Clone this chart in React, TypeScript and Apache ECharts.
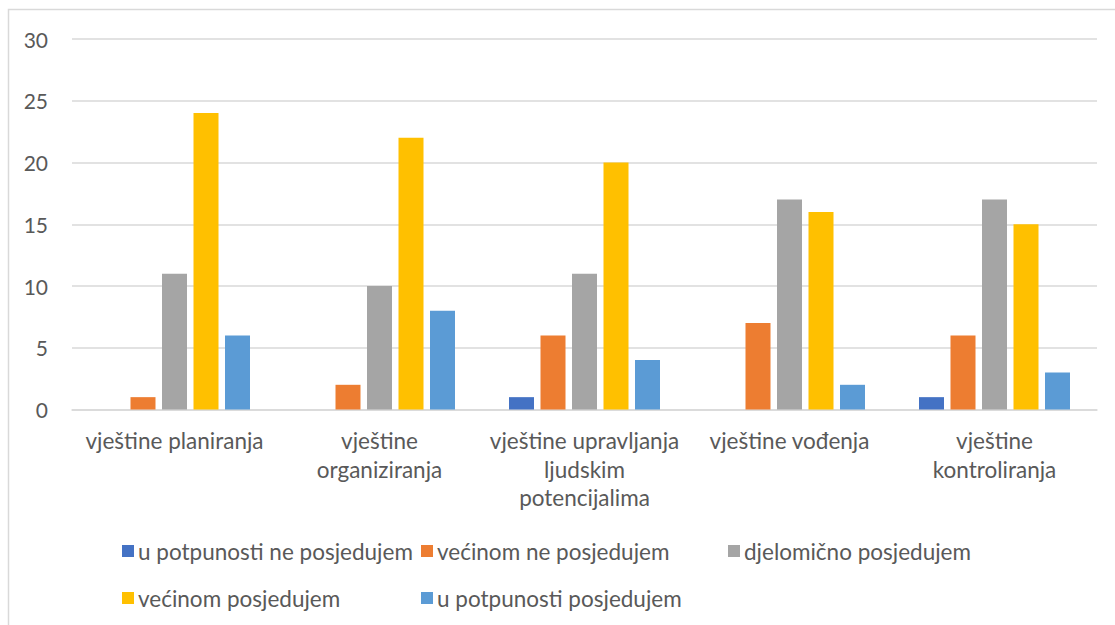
import React, { useEffect, useRef } from "react";
import * as echarts from "echarts";

const categories = [
  "vještine planiranja",
  "vještine\norganiziranja",
  "vještine upravljanja\nljudskim\npotencijalima",
  "vještine vođenja",
  "vještine\nkontroliranja",
];
const seriesNames = [
  "u potpunosti ne posjedujem",
  "većinom ne posjedujem",
  "djelomično posjedujem",
  "većinom posjedujem",
  "u potpunosti posjedujem",
];
const uPotpunostiNe = [0, 0, 1, 0, 1];
const vecinomNe = [1, 2, 6, 7, 6];
const djelomicno = [11, 10, 11, 17, 17];
const vecinom = [24, 22, 20, 16, 15];
const uPotpunosti = [6, 8, 4, 2, 3];
const seriesValues = [uPotpunostiNe, vecinomNe, djelomicno, vecinom, uPotpunosti];
const colors = ["#4472C4", "#ED7D31", "#A5A5A5", "#FFC000", "#5B9BD5"];
const yTicks = { min: 0, max: 30, interval: 5 };

const legendPos = [
  { left: 122, top: 539 },
  { left: 421, top: 539 },
  { left: 728, top: 539 },
  { left: 122, top: 586 },
  { left: 421, top: 586 },
];

const FONT = "Lato, 'Noto Sans', sans-serif";

export default function App() {
  const ref = useRef<HTMLDivElement>(null);
  useEffect(() => {
    if (!ref.current) return;
    const chart = echarts.init(ref.current, undefined, { renderer: "svg" });
    chart.setOption({
      animation: false,
      color: colors,
      backgroundColor: "#ffffff",
      textStyle: { fontFamily: FONT },
      grid: { left: 72, right: 18, top: 39, bottom: 215.5, containLabel: false },
      graphic: [
        {
          type: "rect",
          shape: { x: 8.5, y: 9.5, width: 1200, height: 700 },
          style: { fill: "none", stroke: "#d9d9d9", lineWidth: 1.5 },
          silent: true,
          z: -1,
        },
      ],
      legend: seriesNames.map((name, i) => ({
        data: [name],
        left: legendPos[i].left,
        top: legendPos[i].top,
        icon: "rect",
        itemWidth: 12,
        itemHeight: 12,
        itemGap: 0,
        textStyle: {
          fontFamily: FONT,
          fontSize: 22.5,
          color: "#595959",
          lineHeight: 24,
          padding: [0, 0, 0, -1],
        },
        padding: 0,
        selectedMode: false,
      })),
      xAxis: {
        type: "category",
        data: categories,
        axisLine: { show: true, lineStyle: { color: "#d9d9d9", width: 1.5 } },
        axisTick: { show: false },
        axisLabel: {
          interval: 0,
          fontFamily: FONT,
          fontSize: 22.5,
          color: "#595959",
          lineHeight: 28.5,
          margin: 17,
          align: "center",
        },
      },
      yAxis: {
        type: "value",
        min: yTicks.min,
        max: yTicks.max,
        interval: yTicks.interval,
        axisLine: { show: false },
        axisTick: { show: false },
        splitLine: { lineStyle: { color: "#d9d9d9", width: 1.5 } },
        axisLabel: {
          fontFamily: FONT,
          fontSize: 21,
          color: "#595959",
          margin: 24,
        },
      },
      series: seriesNames.map((name, i) => ({
        name,
        type: "bar",
        data: seriesValues[i],
        barWidth: 25,
        barGap: "26%",
        itemStyle: { color: colors[i] },
      })),
    });
    return () => chart.dispose();
  }, []);
  return (
    <div
      ref={ref}
      style={{ position: "fixed", left: 0, top: 0, width: 1115, height: 625 }}
    />
  );
}
